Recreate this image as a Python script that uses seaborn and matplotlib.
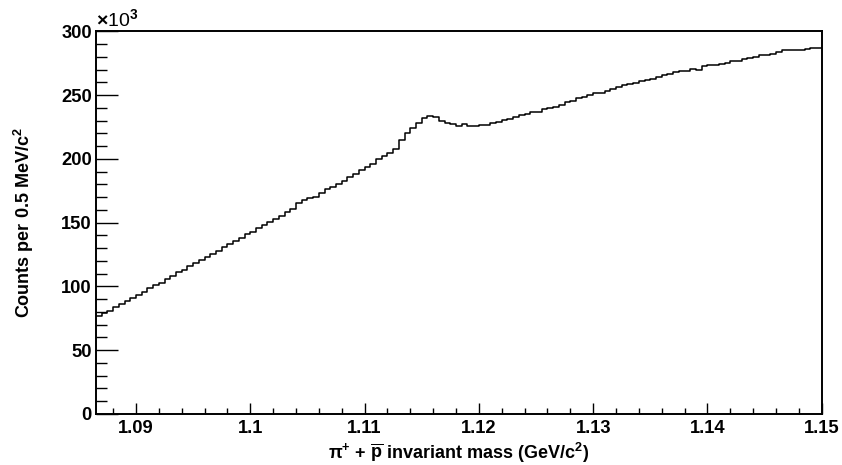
import numpy as np
import pandas as pd
import matplotlib
matplotlib.use("Agg")
import matplotlib.pyplot as plt
from matplotlib.ticker import MultipleLocator, FuncFormatter
import seaborn as sns

# pi+ pbar invariant mass, 0.5 MeV bins from 1.0865 to 1.15 GeV
bin_lo = 1.0865
bin_width = 0.0005
# counts per bin, in thousands
counts_k = [
    77, 79, 81, 84, 86, 88.5, 91, 93.5, 96, 98.5,
    101, 103, 106, 108, 111, 113, 116, 118, 120.5, 123,
    125.5, 128, 130.5, 133, 135.5, 138, 141, 143, 145.5, 148,
    150.5, 153, 155.5, 158, 161, 165, 167.5, 169, 170, 173,
    176, 178, 180.5, 183, 185.5, 188, 191, 193.5, 196, 199.5,
    202, 204.5, 208, 215, 220.6, 224, 228, 232, 233.5, 232.5,
    230, 228, 227, 225.5, 227, 226, 225.8, 226.3, 226.7, 228,
    229, 230.5, 231, 233, 234.5, 235, 236.5, 237, 239, 240,
    240.5, 242.5, 244.2, 245.5, 247.6, 248.4, 249.7, 251.5, 251.5, 253.3,
    254.6, 256.2, 258, 258.3, 259.4, 261.2, 261.5, 262.5, 263.8, 265.4,
    266.4, 267.7, 268.5, 269, 270.6, 270, 272.4, 273.2, 273.7, 274.2,
    275, 276.9, 276.9, 278.1, 279, 279.5, 281.6, 281.6, 282.4, 283.4,
    285.5, 285, 285, 285.5, 286.3, 286.8, 286.8,
]

n_bins = len(counts_k)
bin_hi = bin_lo + bin_width * n_bins
centers = bin_lo + bin_width * (np.arange(n_bins) + 0.5)
df = pd.DataFrame({"mass": centers, "counts": np.array(counts_k) * 1000.0})

sns.set_theme(style="ticks")
plt.rcParams["font.family"] = ["Liberation Sans", "DejaVu Sans"]
plt.rcParams["font.weight"] = "bold"
plt.rcParams["text.color"] = "black"
plt.rcParams["axes.labelcolor"] = "black"
plt.rcParams["mathtext.fontset"] = "custom"
plt.rcParams["mathtext.rm"] = "Liberation Sans:bold"
plt.rcParams["mathtext.bf"] = "Liberation Sans:bold"
plt.rcParams["mathtext.it"] = "Liberation Sans:bold"
plt.rcParams["mathtext.default"] = "rm"

fig = plt.figure(figsize=(8.42, 4.65), dpi=100)
ax = fig.add_axes([0.114, 0.1097, 0.862, 0.8245])

sns.histplot(data=df, x="mass", weights="counts", binwidth=bin_width,
             binrange=(bin_lo, bin_hi), element="step", fill=False,
             color="black", linewidth=1.1, ax=ax)

ax.set_xlim(bin_lo, 1.15)
ax.set_ylim(0, 300500)

ax.xaxis.set_major_locator(MultipleLocator(0.01))
ax.xaxis.set_minor_locator(MultipleLocator(0.002))
ax.yaxis.set_major_locator(MultipleLocator(50000))
ax.yaxis.set_minor_locator(MultipleLocator(10000))
ax.xaxis.set_major_formatter(FuncFormatter(lambda v, p: f"{v:g}"))
ax.yaxis.set_major_formatter(FuncFormatter(lambda v, p: f"{v/1000:g}"))

ax.tick_params(axis="both", which="both", direction="in", colors="black",
               labelsize=13.2, width=1)
ax.tick_params(axis="y", which="major", length=15.8, pad=3)
ax.tick_params(axis="y", which="minor", length=7.9)
ax.tick_params(axis="x", which="major", length=8, pad=4)
ax.tick_params(axis="x", which="minor", length=4)

for s in ax.spines.values():
    s.set_visible(True)
    s.set_color("black")
    s.set_linewidth(1.4)

ax.set_xlabel(r"$\pi^{+}$ + $\overline{\mathrm{p}}$ invariant mass (GeV/c$^{2}$)",
              fontsize=13, fontweight="bold", labelpad=3)
ax.set_ylabel(r"Counts per 0.5 MeV/c$^{2}$", fontsize=13, fontweight="bold",
              labelpad=18)
ax.text(0.0, 1.0, r"$\times$10$^{3}$", transform=ax.transAxes,
        fontsize=14, fontweight="normal", ha="left", va="bottom")

plt.savefig("out.png", dpi=100)
